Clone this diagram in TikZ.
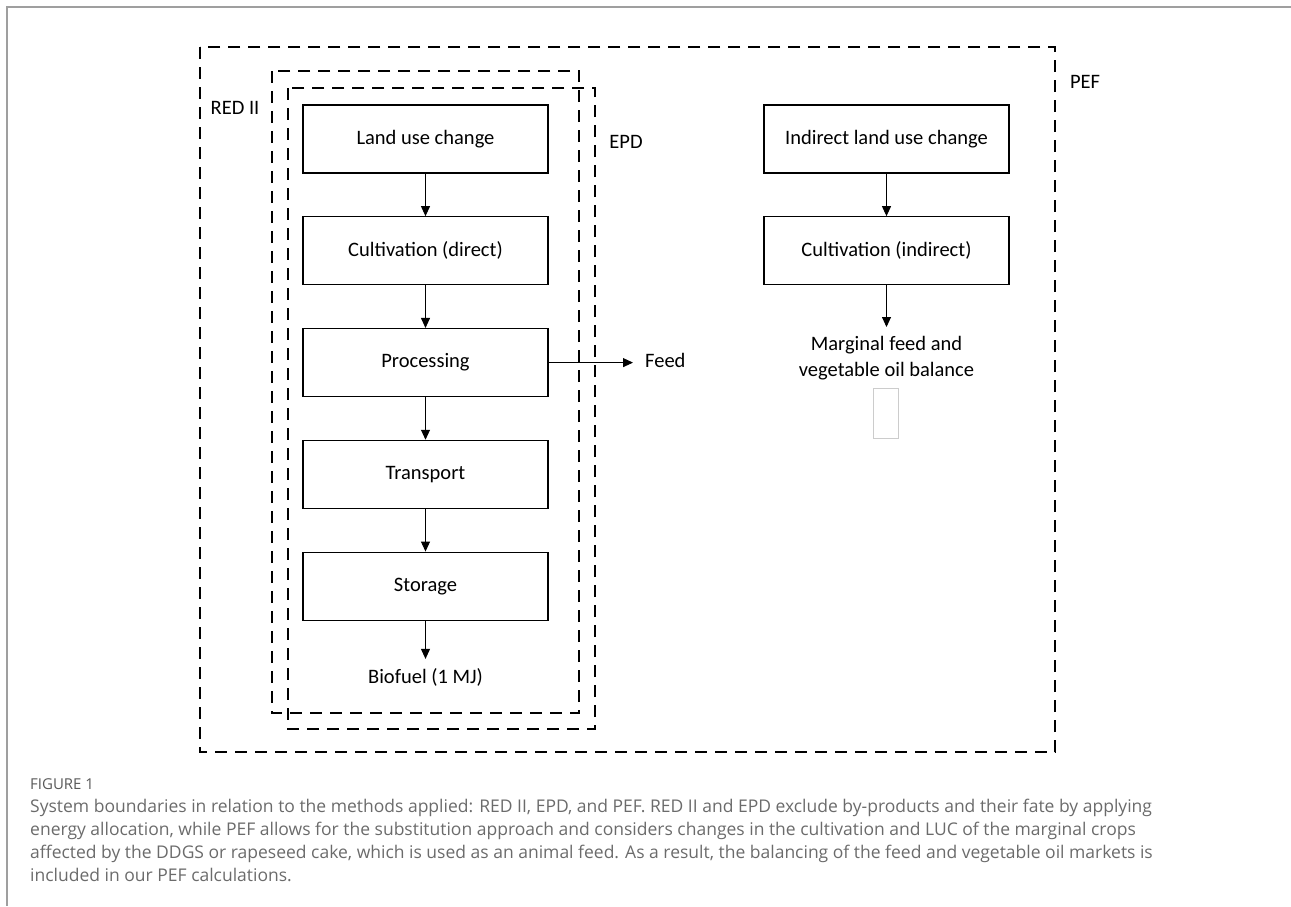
\documentclass[tikz,border=0pt]{standalone}
\usepackage{fontspec}
\setmainfont{Carlito}
\newfontfamily\legfont{Open Sans}
\usetikzlibrary{positioning,arrows.meta}

\begin{document}
\begin{tikzpicture}[x=1pt, y=-1pt, >={Triangle[length=10pt,width=9pt]},
    caixa/.style={draw, line width=1.3pt, minimum width=245pt, minimum height=68pt,
      inner sep=0pt, font=\fontsize{20.5}{24}\selectfont},
    rotulo/.style={inner sep=0pt, font=\fontsize{20.5}{26}\selectfont},
    limite/.style={line width=2.4pt, dash pattern=on 12pt off 8pt},
    seta/.style={->, line width=0.9pt},
    node distance=42.5pt]

  \useasboundingbox (0,0) rectangle (1291,906);

  % Moldura
  \draw[gray!75, line width=1.4pt] (1291,7) -- (7,7) -- (7,906);

  % Limites dos metodos
  \draw[limite] (200,47) rectangle (1055,752);
  \draw[limite] (272,71) rectangle (579,713);
  \draw[limite] (288,88) rectangle (595,729);
  \node[rotulo] (red) at (235,108) {RED II};
  \node[rotulo] (epd) at (626,142) {EPD};
  \node[rotulo] (pef) at (1085,82) {PEF};

  % Cadeia direta
  \node[caixa] (luc) at (425.5,139) {Land use change};
  \node[caixa, below=of luc] (cult) {Cultivation (direct)};
  \node[caixa, below=of cult] (proc) {Processing};
  \node[caixa, below=of proc] (transp) {Transport};
  \node[caixa, below=of transp] (arm) {Storage};
  \node[rotulo] (bio) at (425.5,677) {Biofuel (1 MJ)};
  \node[rotulo, anchor=west] (feed) at (645,360) {Feed};

  % Cadeia indireta
  \node[caixa] (iluc) at (886.5,139) {Indirect land use change};
  \node[caixa, below=of iluc] (icult) {Cultivation (indirect)};
  \node[rotulo, align=center, anchor=north] (marg) at (886.5,336)
    {Marginal feed and\\vegetable oil balance};
  \draw[gray!40, line width=0.6pt] (873,388) rectangle (898,438);

  % Setas
  \draw[seta] (luc) -- (cult);
  \draw[seta] (cult) -- (proc);
  \draw[seta] (proc) -- (transp);
  \draw[seta] (transp) -- (arm);
  \draw[seta, shorten >=9pt] (arm) -- (bio);
  \draw[seta, shorten >=12pt] (proc.east) -- (proc.east -| feed.west);
  \draw[seta] (iluc) -- (icult);
  \draw[seta, shorten >=9pt] (icult) -- (marg);

  % Legenda
  \node[anchor=north west, inner sep=0pt, text=black!65,
    font=\legfont\fontsize{15}{17}\selectfont] (fig) at (30,778) {FIGURE 1};
  \node[anchor=north west, inner sep=0pt, align=left, text=black!58,
    font=\legfont\fontsize{17.5}{23}\selectfont] (leg) at (30,799)
    {System boundaries in relation to the methods applied: RED II, EPD, and PEF. RED II and EPD exclude by-products and their fate by applying\\
     energy allocation, while PEF allows for the substitution approach and considers changes in the cultivation and LUC of the marginal crops\\
     affected by the DDGS or rapeseed cake, which is used as an animal feed. As a result, the balancing of the feed and vegetable oil markets is\\
     included in our PEF calculations.};
\end{tikzpicture}
\end{document}
